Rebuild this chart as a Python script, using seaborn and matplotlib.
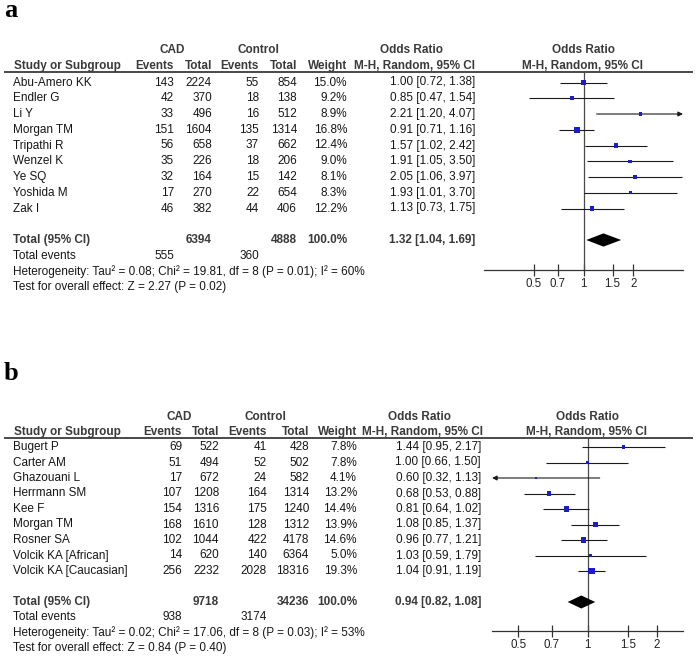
import matplotlib
matplotlib.use("Agg")
import matplotlib.pyplot as plt
import seaborn as sns
import pandas as pd

# ---------------- data: panel a ----------------
a_studies = ["Abu-Amero KK", "Endler G", "Li Y", "Morgan TM", "Tripathi R",
             "Wenzel K", "Ye SQ", "Yoshida M", "Zak I"]
a_cad_events = [143, 42, 33, 151, 56, 35, 32, 17, 46]
a_cad_total = [2224, 370, 496, 1604, 658, 226, 164, 270, 382]
a_ctl_events = [55, 18, 16, 135, 37, 18, 15, 22, 44]
a_ctl_total = [854, 138, 512, 1314, 662, 206, 142, 654, 406]
a_weight = [15.0, 9.2, 8.9, 16.8, 12.4, 9.0, 8.1, 8.3, 12.2]
a_or = [1.00, 0.85, 2.21, 0.91, 1.57, 1.91, 2.05, 1.93, 1.13]
a_lo = [0.72, 0.47, 1.20, 0.71, 1.02, 1.05, 1.06, 1.01, 0.73]
a_hi = [1.38, 1.54, 4.07, 1.16, 2.42, 3.50, 3.97, 3.70, 1.75]
a_sum_totals = [6394, 4888]
a_sum_events = [555, 360]
a_pooled = [1.32, 1.04, 1.69]
a_het = "Heterogeneity: Tau² = 0.08; Chi² = 19.81, df = 8 (P = 0.01); I² = 60%"
a_test = "Test for overall effect: Z = 2.27 (P = 0.02)"
a_xlim = [0.25, 4.0]

# ---------------- data: panel b ----------------
b_studies = ["Bugert P", "Carter AM", "Ghazouani L", "Herrmann SM", "Kee F",
             "Morgan TM", "Rosner SA", "Volcik KA [African]", "Volcik KA [Caucasian]"]
b_cad_events = [69, 51, 17, 107, 154, 168, 102, 14, 256]
b_cad_total = [522, 494, 672, 1208, 1316, 1610, 1044, 620, 2232]
b_ctl_events = [41, 52, 24, 164, 175, 128, 422, 140, 2028]
b_ctl_total = [428, 502, 582, 1314, 1240, 1312, 4178, 6364, 18316]
b_weight = [7.8, 7.8, 4.1, 13.2, 14.4, 13.9, 14.6, 5.0, 19.3]
b_or = [1.44, 1.00, 0.60, 0.68, 0.81, 1.08, 0.96, 1.03, 1.04]
b_lo = [0.95, 0.66, 0.32, 0.53, 0.64, 0.85, 0.77, 0.59, 0.91]
b_hi = [2.17, 1.50, 1.13, 0.88, 1.02, 1.37, 1.21, 1.79, 1.19]
b_sum_totals = [9718, 34236]
b_sum_events = [938, 3174]
b_pooled = [0.94, 0.82, 1.08]
b_het = "Heterogeneity: Tau² = 0.02; Chi² = 17.06, df = 8 (P = 0.03); I² = 53%"
b_test = "Test for overall effect: Z = 0.84 (P = 0.40)"
b_xlim = [1 / 2.6, 2.6]

tick_values = [0.5, 0.7, 1, 1.5, 2]
tick_labels = ["0.5", "0.7", "1", "1.5", "2"]

# ---------------- style ----------------
sns.set_style("white")
plt.rcParams["font.family"] = ["Liberation Sans", "DejaVu Sans"]

W, H = 698, 660
fig = plt.figure(figsize=(W / 100, H / 100), dpi=100)
bg = fig.add_axes([0, 0, 1, 1])
bg.set_xlim(0, W)
bg.set_ylim(H, 0)
bg.axis("off")

FS = 8.5
TXT = "#161616"
HDR = "#3a3a3a"
BLUE = "#1c1cc8"


def fmt_ci(o, l, h):
    return f"{o:.2f} [{l:.2f}, {h:.2f}]"


def draw_panel(label, label_y, studies, ce, ct, ke, kt, w, orr, lo, hi,
               sum_tot, sum_ev, pooled, het, test, xlim, L):
    row0, dy = L["row0"], L["dy"]
    ry = lambda i: row0 + i * dy

    bg.text(4, label_y, label, family=["Liberation Serif", "DejaVu Serif"],
            fontsize=19, fontweight="bold", va="baseline", ha="left", color="black")

    # headers
    h1, h2 = L["h1"], L["h2"]
    c = L["cols"]
    bkw = dict(fontsize=FS, fontweight="bold", color=HDR, va="center")
    bg.text(L["cad_c"], h1, "CAD", ha="center", **bkw)
    bg.text(L["ctl_c"], h1, "Control", ha="center", **bkw)
    bg.text(L["or1_c"], h1, "Odds Ratio", ha="center", **bkw)
    bg.text(L["or2_c"], h1, "Odds Ratio", ha="center", **bkw)
    bg.text(14, h2, "Study or Subgroup", ha="left", **bkw)
    for x, s in zip(c[:5], ["Events", "Total", "Events", "Total", "Weight"]):
        bg.text(x, h2, s, ha="right", **bkw)
    bg.text(L["or1_c"] + 3, h2, "M-H, Random, 95% CI", ha="center", **bkw)
    bg.text(L["or2_c"], h2, "M-H, Random, 95% CI", ha="center", **bkw)
    bg.plot([4, 693], [L["line"], L["line"]], color="#3a3a3a", lw=1.3,
            solid_capstyle="butt")

    # study rows
    nkw = dict(fontsize=FS, color=TXT, va="center")
    for i in range(len(studies)):
        y = ry(i)
        bg.text(13, y, studies[i], ha="left", **nkw)
        vals = [str(ce[i]), str(ct[i]), str(ke[i]), str(kt[i]), f"{w[i]:.1f}%",
                fmt_ci(orr[i], lo[i], hi[i])]
        for x, s in zip(c, vals):
            bg.text(x, y, s, ha="right", **nkw)

    # total row
    n = len(studies)
    yt = ry(n + 1)
    bg.text(13, yt, "Total (95% CI)", ha="left", **bkw)
    for x, s in zip([c[1], c[3], c[4], c[5]],
                    [str(sum_tot[0]), str(sum_tot[1]), "100.0%", fmt_ci(*pooled)]):
        bg.text(x, yt, s, ha="right", **bkw)
    ye = ry(n + 2)
    bg.text(13, ye, "Total events", ha="left", **nkw)
    bg.text(c[0], ye, str(sum_ev[0]), ha="right", **nkw)
    bg.text(c[2], ye, str(sum_ev[1]), ha="right", **nkw)
    bg.text(13, ry(n + 3), het, ha="left", **nkw)
    bg.text(13, ry(n + 4), test, ha="left", **nkw)

    # forest axis
    x0, x1, yt_px, yb_px = L["ax_x0"], L["ax_x1"], L["line"], L["axis"]
    ax = fig.add_axes([x0 / W, 1 - yb_px / H, (x1 - x0) / W, (yb_px - yt_px) / H])
    ax.patch.set_alpha(0)
    ax.set_xscale("log")
    ax.set_xlim(*xlim)
    ax.set_ylim((yb_px - row0) / dy, (yt_px - row0) / dy)
    for s in ["top", "left", "right"]:
        ax.spines[s].set_visible(False)
    ax.spines["bottom"].set_color("#333333")
    ax.spines["bottom"].set_linewidth(0.9)
    ax.axvline(1, color="#4a4a4a", lw=0.9, zorder=1)

    df = pd.DataFrame({"or": orr, "lo": lo, "hi": hi, "w": w,
                       "row": list(range(n))})
    for _, r in df.iterrows():
        lo_c = max(r["lo"], xlim[0])
        hi_c = min(r["hi"], xlim[1])
        if r["hi"] > xlim[1]:
            ax.annotate("", xy=(xlim[1], r["row"]), xytext=(lo_c, r["row"]),
                        arrowprops=dict(arrowstyle="-|>", lw=0.8, color="#1a1a1a",
                                        mutation_scale=7, shrinkA=0, shrinkB=0),
                        annotation_clip=False)
        elif r["lo"] < xlim[0]:
            ax.annotate("", xy=(xlim[0], r["row"]), xytext=(hi_c, r["row"]),
                        arrowprops=dict(arrowstyle="-|>", lw=0.8, color="#1a1a1a",
                                        mutation_scale=7, shrinkA=0, shrinkB=0),
                        annotation_clip=False)
        else:
            ax.hlines(r["row"], lo_c, hi_c, color="#1a1a1a", lw=0.8, zorder=2)
    sizes = [(0.6 + 0.21 * v) ** 2 for v in w]
    sns.scatterplot(data=df, x="or", y="row", marker="s", s=sizes, color=BLUE,
                    linewidth=0, legend=False, ax=ax, zorder=3)

    # pooled diamond
    po, pl, ph = pooled
    yd = n + 1
    ax.fill([pl, po, ph, po], [yd, yd - 0.42, yd, yd + 0.42], color="black",
            lw=0, zorder=3)

    ax.xaxis.set_minor_locator(plt.NullLocator())
    ax.set_xticks(tick_values)
    ax.set_xticklabels(tick_labels)
    ax.xaxis.set_minor_formatter(plt.NullFormatter())
    ax.set_yticks([])
    ax.set_xlabel("")
    ax.set_ylabel("")
    ax.tick_params(axis="x", direction="inout", length=8, width=0.9,
                   color="#333333", labelsize=8.3, labelcolor="#222222", pad=1.5,
                   bottom=True)


layout_a = dict(row0=82.5, dy=15.75, h1=50, h2=66, line=71.5, axis=270,
                cols=[174, 212, 259, 297, 347, 475],
                cad_c=172, ctl_c=258, or1_c=412, or2_c=583,
                ax_x0=484, ax_x1=683)
layout_b = dict(row0=447, dy=15.5, h1=417, h2=432, line=437.5, axis=631,
                cols=[182, 219, 267, 309, 357, 481],
                cad_c=179, ctl_c=265, or1_c=420, or2_c=587,
                ax_x0=492, ax_x1=683)

draw_panel("a", 17, a_studies, a_cad_events, a_cad_total, a_ctl_events, a_ctl_total,
           a_weight, a_or, a_lo, a_hi, a_sum_totals, a_sum_events, a_pooled,
           a_het, a_test, a_xlim, layout_a)
draw_panel("b", 380, b_studies, b_cad_events, b_cad_total, b_ctl_events, b_ctl_total,
           b_weight, b_or, b_lo, b_hi, b_sum_totals, b_sum_events, b_pooled,
           b_het, b_test, b_xlim, layout_b)

fig.savefig("out.png", dpi=100)
